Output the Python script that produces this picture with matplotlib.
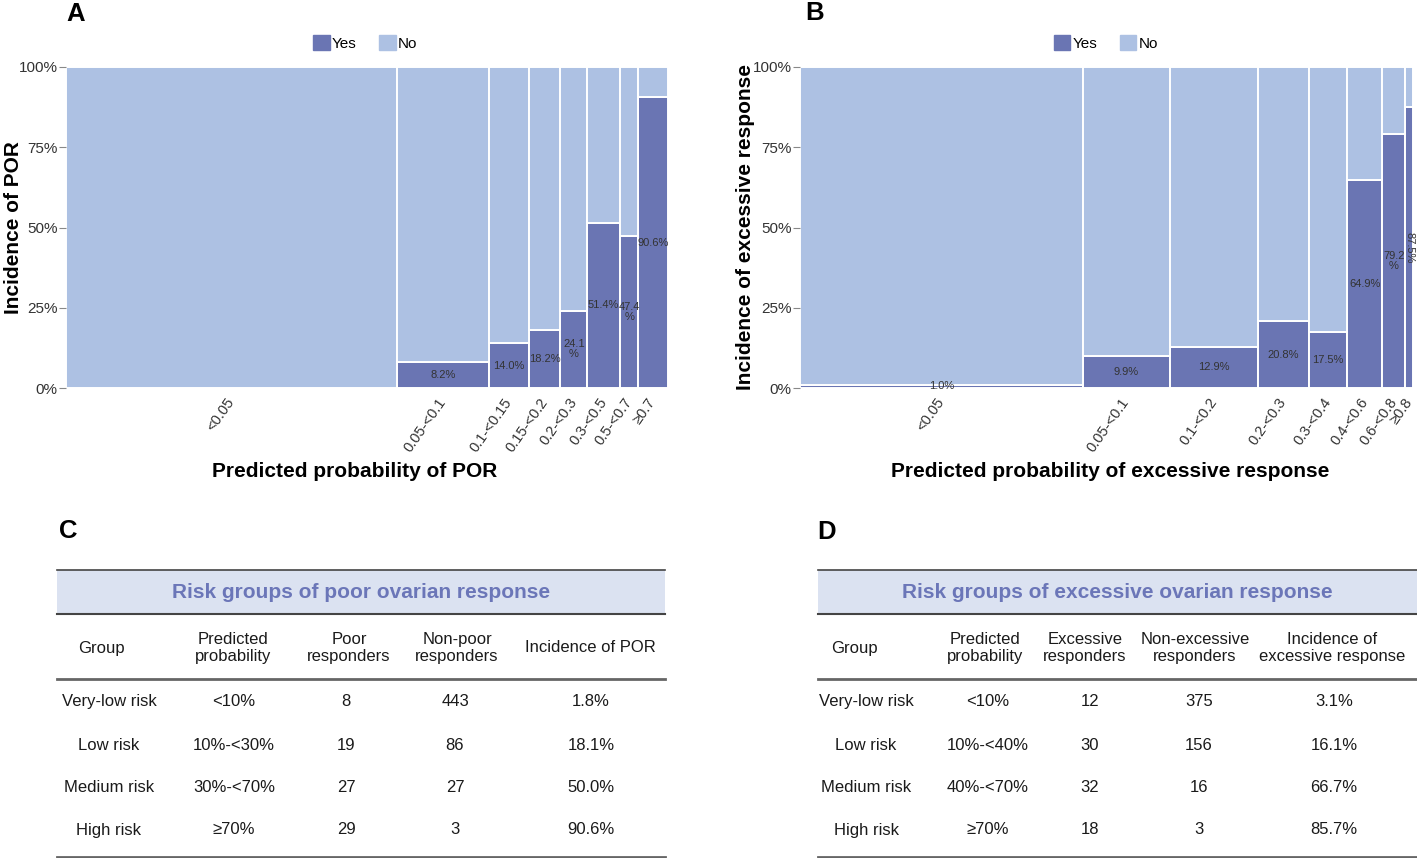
import matplotlib.pyplot as plt
from matplotlib.patches import Patch, Rectangle
import numpy as np

plt.rcParams['font.family'] = ['Liberation Sans', 'DejaVu Sans']

yes_col = '#6a75b3'
no_col = '#adc1e3'
head_bg = '#dbe2f1'
head_txt = '#6b76b8'

# panel A - poor ovarian response
binsA = ['<0.05', '0.05-<0.1', '0.1-<0.15', '0.15-<0.2', '0.2-<0.3', '0.3-<0.5', '0.5-<0.7', '≥0.7']
nA = [353, 98, 43, 33, 29, 35, 19, 32]
yesA = [0, 8, 6, 6, 7, 18, 9, 29]

# panel B - excessive response
binsB = ['<0.05', '0.05-<0.1', '0.1-<0.2', '0.2-<0.3', '0.3-<0.4', '0.4-<0.6', '0.6-<0.8', '≥0.8']
nB = [296, 91, 93, 53, 40, 37, 24, 8]
yesB = [3, 9, 12, 11, 7, 24, 19, 7]

# tables C / D
groups = ['Very-low risk', 'Low risk', 'Medium risk', 'High risk']
probC = ['<10%', '10%-<30%', '30%-<70%', '≥70%']
poorC = [8, 19, 27, 29]
nonpoorC = [443, 86, 27, 3]
probD = ['<10%', '10%-<40%', '40%-<70%', '≥70%']
excD = [12, 30, 32, 18]
nonexcD = [375, 156, 16, 3]

W, H = 1417, 858
fig = plt.figure(figsize=(W / 100, H / 100), dpi=100)


def px_axes(x0, y0, x1, y1):
    return fig.add_axes([x0 / W, 1 - y1 / H, (x1 - x0) / W, (y1 - y0) / H])


def mosaic(ax, bins, n, yes, xlab, ylab, xlab_x, ylab_x, leg_x):
    n = np.array(n, dtype=float)
    yes = np.array(yes, dtype=float)
    frac = yes / n
    left = np.concatenate([[0], np.cumsum(n)[:-1]])
    ax.bar(left, frac, width=n, align='edge', color=yes_col, edgecolor='white', linewidth=1.4)
    ax.bar(left, 1 - frac, bottom=frac, width=n, align='edge', color=no_col,
           edgecolor='white', linewidth=1.4)
    for l, w, f, y in zip(left, n, frac, yes):
        if y == 0:
            continue
        s = f'{100 * f:.1f}%'
        rot = 0
        if w < 15:
            rot = -90
        elif w < 30:
            s = s[:-1] + '\n%'
        ax.text(l + w / 2, f / 2, s, ha='center', va='center', rotation=rot,
                fontsize=8, color='#333333', linespacing=1.0)
    ax.set_xlim(0, n.sum())
    ax.set_ylim(0, 1)
    ax.set_xticks(left + n / 2)
    ax.set_xticklabels(bins, rotation=55, ha='right', va='center', rotation_mode='anchor',
                       fontsize=10.5, color='#333333')
    ax.tick_params(axis='x', length=0, pad=8)
    ax.set_yticks([0, 0.25, 0.5, 0.75, 1])
    ax.set_yticklabels(['0%', '25%', '50%', '75%', '100%'], fontsize=11, color='#333333')
    ax.tick_params(axis='y', length=5, width=0.8, color='#888888', pad=1)
    for sp in ax.spines.values():
        sp.set_visible(False)
    ax.set_xlabel(xlab, fontsize=15, fontweight='bold')
    ax.xaxis.set_label_coords(xlab_x, -0.232)
    ax.set_ylabel(ylab, fontsize=15, fontweight='bold')
    ax.yaxis.set_label_coords(ylab_x, 0.5)
    handles = [Patch(color=yes_col, label='Yes'), Patch(color=no_col, label='No')]
    ax.legend(handles=handles, loc='center', bbox_to_anchor=(leg_x, 1.074), ncol=2,
              frameon=False, fontsize=11, handlelength=1.1, handleheight=1.1,
              handletextpad=0.15, columnspacing=1.45, borderaxespad=0)


axA = px_axes(66, 67, 668, 388)
mosaic(axA, binsA, nA, yesA, 'Predicted probability of POR', 'Incidence of POR',
       0.48, -0.072, 0.497)
axB = px_axes(800, 67, 1413, 388)
mosaic(axB, binsB, nB, yesB, 'Predicted probability of excessive response',
       'Incidence of excessive response', 0.506, -0.074, 0.499)

# overlay in pixel coordinates for letters and tables
ov = fig.add_axes([0, 0, 1, 1])
ov.set_xlim(0, W)
ov.set_ylim(H, 0)
ov.axis('off')

for lab, x, y in [('A', 66, 2), ('B', 805, 1), ('C', 59, 519), ('D', 817, 520)]:
    ov.text(x, y, lab, fontsize=18.5, fontweight='bold', ha='left', va='top')


def table(x0, x1, cols, head_cols, title, heads, rows):
    ov.add_patch(Rectangle((x0, 570), x1 - x0, 44, facecolor=head_bg, edgecolor='none'))
    ov.plot([x0, x1], [570, 570], color='#444444', lw=1.2)
    ov.plot([x0, x1], [614, 614], color='#444444', lw=1.5)
    ov.plot([x0, x1], [678.5, 678.5], color='#666666', lw=2)
    ov.plot([x0, x1], [856.5, 856.5], color='#666666', lw=2)
    ov.text((x0 + x1) / 2, 593, title, ha='center', va='center', fontsize=15,
            fontweight='bold', color=head_txt)
    for cx, h in zip(head_cols, heads):
        ov.text(cx, 648, h, ha='center', va='center', fontsize=12, linespacing=1.2,
                color='#1a1a1a')
    for ry, row in zip([701.5, 745.5, 787.5, 830], rows):
        for cx, v in zip(cols, row):
            ov.text(cx, ry, v, ha='center', va='center', fontsize=12, color='#1a1a1a')


rowsC = [[g, p, str(a), str(b), f'{100 * a / (a + b):.1f}%']
         for g, p, a, b in zip(groups, probC, poorC, nonpoorC)]
table(57, 665, [109, 234, 346, 455, 591], [101, 233, 349, 457, 590],
      'Risk groups of poor ovarian response',
      ['Group', 'Predicted\nprobability', 'Poor\nresponders', 'Non-poor\nresponders',
       'Incidence of POR'], rowsC)

rowsD = [[g, p, str(a), str(b), f'{100 * a / (a + b):.1f}%']
         for g, p, a, b in zip(groups, probD, excD, nonexcD)]
table(818, 1417, [866, 988, 1090, 1199, 1334], [854, 985, 1085, 1195, 1332],
      'Risk groups of excessive ovarian response',
      ['Group', 'Predicted\nprobability', 'Excessive\nresponders', 'Non-excessive\nresponders',
       'Incidence of\nexcessive response'], rowsD)

fig.savefig('out.png', dpi=100)
